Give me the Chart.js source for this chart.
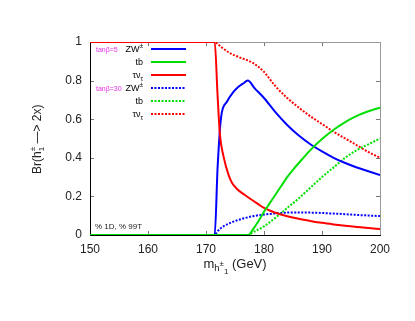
<!DOCTYPE html>
<html>
<head>
<meta charset="utf-8">
<script src="https://cdn.jsdelivr.net/npm/chart.js@4.4.1/dist/chart.umd.min.js"></script>
<style>
  body { margin: 0; background: #fff; }
  canvas { display: block; }
</style>
</head>
<body>
<canvas id="chart" width="415" height="321"></canvas>
<script>
// tan(beta)=5, solid lines
let zw5Mass = [150, 171.5, 172, 172.6, 173.6, 174.7, 175.5, 176.4, 177.2, 178.4, 180, 182, 184, 186, 188, 190, 192, 194, 196, 198, 200]
let zw5Br   = [0, 0, 0.35, 0.61, 0.69, 0.74, 0.765, 0.785, 0.80, 0.76, 0.71, 0.635, 0.57, 0.515, 0.47, 0.433, 0.40, 0.373, 0.35, 0.33, 0.31]

let tb5Mass = [150, 177.3, 178, 179, 180, 181, 182, 183, 184, 185, 186, 188, 190, 192, 194, 196, 198, 200]
let tb5Br   = [0, 0, 0.025, 0.07, 0.12, 0.165, 0.21, 0.255, 0.30, 0.338, 0.373, 0.44, 0.497, 0.545, 0.585, 0.617, 0.641, 0.66]

let tau5Mass = [150, 171.5, 172, 172.4, 173, 173.9, 174.5, 175.3, 176.7, 178, 179, 180, 182, 184, 186, 188, 190, 192, 194, 196, 198, 200]
let tau5Br   = [1, 1, 0.72, 0.52, 0.41, 0.31, 0.27, 0.24, 0.207, 0.18, 0.16, 0.14, 0.115, 0.097, 0.084, 0.073, 0.063, 0.055, 0.048, 0.042, 0.036, 0.031]

// tan(beta)=30, dotted lines
let zw30Mass = [150, 171.5, 172, 173, 174, 175, 176, 177, 178, 180, 182, 184, 186, 188, 190, 192, 194, 196, 198, 200]
let zw30Br   = [0, 0, 0.02, 0.045, 0.06, 0.072, 0.082, 0.09, 0.097, 0.106, 0.112, 0.116, 0.117, 0.116, 0.114, 0.111, 0.108, 0.104, 0.101, 0.098]

let tb30Mass = [150, 177.3, 178, 180, 182, 184, 186, 188, 190, 192, 194, 196, 198, 200]
let tb30Br   = [0, 0, 0.012, 0.045, 0.09, 0.14, 0.19, 0.245, 0.30, 0.35, 0.40, 0.44, 0.47, 0.50]

let tau30Mass = [150, 171.5, 172, 173, 174, 175, 176, 177, 178, 179, 180, 182, 184, 186, 188, 190, 192, 194, 196, 198, 200]
let tau30Br   = [1, 1, 0.99, 0.965, 0.945, 0.93, 0.918, 0.907, 0.893, 0.872, 0.845, 0.77, 0.71, 0.66, 0.615, 0.575, 0.535, 0.50, 0.465, 0.43, 0.40]

let xTicks = [150, 160, 170, 180, 190, 200]
let yTicks = [0, 0.2, 0.4, 0.6, 0.8, 1]

const BLUE = '#0000ff'
const GREEN = '#00e000'
const RED = '#ff0000'
const FONT = '"Liberation Sans", Arial, sans-serif'

function pts(xs, ys) {
    return xs.map((x, i) => ({ x: x, y: ys[i] }))
}

function series(label, xs, ys, color, dotted, order) {
    return {
        label: label,
        data: pts(xs, ys),
        borderColor: color,
        borderWidth: 2,
        borderDash: dotted ? [2, 1.5] : [],
        pointRadius: 0,
        fill: false,
        cubicInterpolationMode: 'monotone',
        order: order
    }
}

// draws a run of text pieces with size / vertical offset (sub & superscripts)
function richText(ctx, parts, x, y, align, color) {
    let widths = parts.map(p => {
        ctx.font = p.s + 'px ' + FONT
        return ctx.measureText(p.t).width
    })
    let total = widths.reduce((a, b) => a + b, 0)
    let cx = align === 'right' ? x - total : align === 'center' ? x - total / 2 : x
    ctx.fillStyle = color
    ctx.textBaseline = 'alphabetic'
    ctx.textAlign = 'left'
    parts.forEach((p, i) => {
        ctx.font = p.s + 'px ' + FONT
        ctx.fillText(p.t, cx + (p.dx || 0), y + (p.dy || 0))
        cx += widths[i] + (p.dx || 0)
    })
}

let legendRows = [
    { tag: 'tanβ=5',  parts: [{ t: 'ZW', s: 9 }, { t: '±', s: 6.5, dy: -4 }], color: BLUE, dotted: false },
    { tag: null,      parts: [{ t: 'tb', s: 9 }], color: GREEN, dotted: false },
    { tag: null,      parts: [{ t: 'τν', s: 9 }, { t: 'τ', s: 6.5, dy: 2.5 }], color: RED, dotted: false },
    { tag: 'tanβ=30', parts: [{ t: 'ZW', s: 9 }, { t: '±', s: 6.5, dy: -4 }], color: BLUE, dotted: true },
    { tag: null,      parts: [{ t: 'tb', s: 9 }], color: GREEN, dotted: true },
    { tag: null,      parts: [{ t: 'τν', s: 9 }, { t: 'τ', s: 6.5, dy: 2.5 }], color: RED, dotted: true }
]
let legendY = [49, 62, 75, 88, 101, 114]

const decor = {
    id: 'decor',
    beforeDatasetsDraw(chart) {
        let ctx = chart.ctx
        let a = chart.chartArea
        let xs = chart.scales.x
        let ys = chart.scales.y
        ctx.save()
        ctx.lineWidth = 1
        // inward tick marks, mirrored
        ctx.strokeStyle = '#777'
        ctx.beginPath()
        xTicks.forEach(v => {
            let px = Math.round(xs.getPixelForValue(v)) + 0.5
            ctx.moveTo(px, a.bottom); ctx.lineTo(px, a.bottom - 4)
            ctx.moveTo(px, a.top); ctx.lineTo(px, a.top + 4)
        })
        yTicks.forEach(v => {
            let py = Math.round(ys.getPixelForValue(v)) + 0.5
            ctx.moveTo(a.left, py); ctx.lineTo(a.left + 4, py)
            ctx.moveTo(a.right, py); ctx.lineTo(a.right - 4, py)
        })
        ctx.stroke()
        // frame
        ctx.strokeStyle = '#999'
        ctx.beginPath()
        ctx.moveTo(a.left, a.top + 0.5); ctx.lineTo(a.right + 0.5, a.top + 0.5); ctx.lineTo(a.right + 0.5, a.bottom)
        ctx.stroke()
        ctx.strokeStyle = '#000'
        ctx.beginPath()
        ctx.moveTo(a.left + 0.5, a.top); ctx.lineTo(a.left + 0.5, a.bottom + 0.5); ctx.lineTo(a.right + 1, a.bottom + 0.5)
        ctx.stroke()
        ctx.restore()
    },
    afterDatasetsDraw(chart) {
        let ctx = chart.ctx
        ctx.save()
        // legend
        legendRows.forEach((r, i) => {
            let y = legendY[i]
            if (r.tag) richText(ctx, [{ t: r.tag, s: 7 }], 96, y + 3, 'left', '#e633e6')
            richText(ctx, r.parts, 143, y + 3, 'right', '#000')
            ctx.strokeStyle = r.color
            ctx.lineWidth = 2
            ctx.setLineDash(r.dotted ? [2, 1.5] : [])
            ctx.beginPath()
            ctx.moveTo(151, y); ctx.lineTo(186, y)
            ctx.stroke()
        })
        ctx.setLineDash([])
        // note
        richText(ctx, [{ t: '% 1D, % 99T', s: 8 }], 95, 229, 'left', '#222')
        // x title
        richText(ctx, [
            { t: 'm', s: 13 },
            { t: 'h', s: 9.5, dy: 3 },
            { t: '±', s: 8, dy: -2 },
            { t: '1', s: 8, dy: 6 },
            { t: ' (GeV)', s: 13 }
        ], 235, 268, 'center', '#222')
        // y title
        ctx.translate(41, 137)
        ctx.rotate(-Math.PI / 2)
        richText(ctx, [
            { t: 'Br(h', s: 12 },
            { t: '1', s: 8, dy: 3 },
            { t: '±', s: 8, dy: -6, dx: -4.5 },
            { t: ' —> 2x)', s: 12 }
        ], 0, 0, 'center', '#222')
        ctx.restore()
    }
}

new Chart(document.getElementById('chart'), {
    type: 'line',
    data: {
        datasets: [
            series('ZW± (tanβ=5)', zw5Mass, zw5Br, BLUE, false, 2),
            series('tb (tanβ=5)', tb5Mass, tb5Br, GREEN, false, 0),
            series('τντ (tanβ=5)', tau5Mass, tau5Br, RED, false, 1),
            series('ZW± (tanβ=30)', zw30Mass, zw30Br, BLUE, true, 5),
            series('tb (tanβ=30)', tb30Mass, tb30Br, GREEN, true, 3),
            series('τντ (tanβ=30)', tau30Mass, tau30Br, RED, true, 4)
        ]
    },
    options: {
        responsive: false,
        animation: false,
        layout: { padding: { top: 42, right: 35, left: 0, bottom: 0 } },
        plugins: {
            legend: { display: false },
            tooltip: { enabled: false }
        },
        scales: {
            x: {
                type: 'linear',
                min: 150,
                max: 200,
                afterFit: s => { s.height = 86 },
                afterBuildTicks: s => { s.ticks = xTicks.map(v => ({ value: v })) },
                grid: { display: false, drawTicks: false },
                border: { display: false },
                ticks: { padding: 7, color: '#222', font: { family: FONT, size: 12 } }
            },
            y: {
                min: 0,
                max: 1,
                afterFit: s => { s.width = 90 },
                afterBuildTicks: s => { s.ticks = yTicks.map(v => ({ value: v })) },
                grid: { display: false, drawTicks: false },
                border: { display: false },
                ticks: {
                    padding: 8,
                    color: '#222',
                    font: { family: FONT, size: 12 },
                    callback: v => String(Math.round(v * 10) / 10)
                }
            }
        }
    },
    plugins: [decor]
})
</script>
</body>
</html>
